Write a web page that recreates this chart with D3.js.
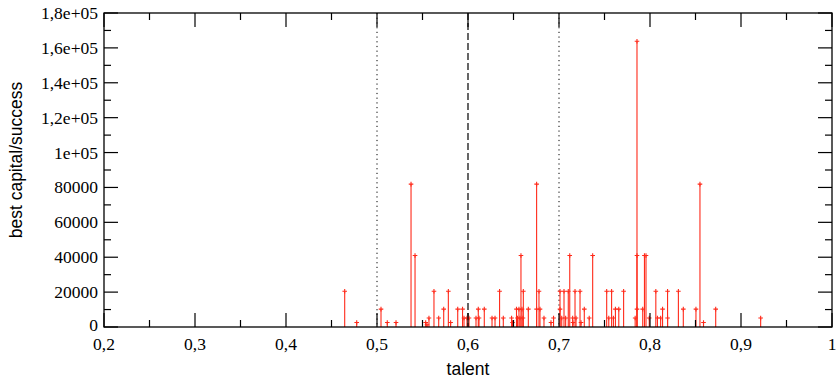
<!DOCTYPE html>
<html>
<head>
<meta charset="utf-8">
<script src="https://cdn.jsdelivr.net/npm/d3@7"></script>
<style>
html,body{margin:0;padding:0;background:#fff;}
svg{display:block;}
</style>
</head>
<body>
<svg id="chart" width="838" height="383"></svg>
<script>
// ---- data ----
const talent = [
  0.4645, 0.4777, 0.5044, 0.5113, 0.5209, 0.5374, 0.5418, 0.5535, 0.5549, 0.5571,
  0.5626, 0.5678, 0.5733, 0.5784, 0.5809, 0.5887, 0.5940, 0.5956, 0.5989, 0.6011,
  0.6088, 0.6113, 0.6121, 0.6179, 0.6264, 0.6297, 0.6347, 0.6388, 0.6479, 0.6489,
  0.6533, 0.6544, 0.6560, 0.6571, 0.6582, 0.6593, 0.6608, 0.6604, 0.6663, 0.6754,
  0.6754, 0.6780, 0.6791, 0.6835, 0.6912, 0.6940, 0.7011, 0.7011, 0.7030, 0.7055,
  0.7073, 0.7102, 0.7118, 0.7150, 0.7154, 0.7176, 0.7187, 0.7231, 0.7242, 0.7278,
  0.7332, 0.7370, 0.7524, 0.7547, 0.7578, 0.7598, 0.7620, 0.7657, 0.7710, 0.7837,
  0.7857, 0.7857, 0.7857, 0.7920, 0.7939, 0.7956, 0.7992, 0.8064, 0.8082, 0.8117,
  0.8138, 0.8193, 0.8193, 0.8312, 0.8366, 0.8505, 0.8549, 0.8588, 0.8722, 0.9216
];
const capital = [
  20480, 2560, 10240, 2560, 2560, 81920, 40960, 2560, 1280, 5120,
  20480, 5120, 10240, 20480, 2560, 10240, 10240, 5120, 5120, 5120,
  5120, 10240, 5120, 10240, 5120, 5120, 20480, 5120, 5120, 2560,
  10240, 5120, 10240, 5120, 40960, 10240, 20480, 5120, 10240, 81920,
  10240, 20480, 10240, 5120, 2560, 5120, 20480, 10240, 5120, 20480,
  5120, 20480, 40960, 5120, 2560, 20480, 5120, 20480, 2560, 10240,
  5120, 40960, 20480, 5120, 20480, 5120, 10240, 10240, 20480, 5120,
  163840, 40960, 10240, 10240, 40960, 40960, 5120, 20480, 5120, 5120,
  10240, 20480, 5120, 20480, 10240, 10240, 81920, 2560, 10240, 5120
];
const xTickValues = [0.2, 0.3, 0.4, 0.5, 0.6, 0.7, 0.8, 0.9, 1.0];
const xTickLabels = ["0,2", "0,3", "0,4", "0,5", "0,6", "0,7", "0,8", "0,9", "1"];
const yTickValues = [0, 20000, 40000, 60000, 80000, 100000, 120000, 140000, 160000, 180000];
const yTickLabels = ["0", "20000", "40000", "60000", "80000", "1e+05", "1,2e+05", "1,4e+05", "1,6e+05", "1,8e+05"];
const dottedLines = [0.5, 0.7];
const dashedLines = [0.6];
const xLabel = "talent";
const yLabel = "best capital/success";

// ---- layout ----
const L = 104, R = 832, T = 13, B = 327;
const svg = d3.select("#chart");
const x = d3.scaleLinear().domain([0.2, 1.0]).range([L, R]);
const y = d3.scaleLinear().domain([0, 180000]).range([B, T]);

const pts = talent.map((t, i) => ({t, c: capital[i]}));

// reference lines
const g0 = svg.append("g");
g0.selectAll("line.dot").data(dottedLines).join("line")
  .attr("x1", d => x(d)).attr("x2", d => x(d)).attr("y1", T).attr("y2", B)
  .attr("stroke", "#000").attr("stroke-width", 1).attr("stroke-dasharray", "1.2,3.5");
g0.selectAll("line.dash").data(dashedLines).join("line")
  .attr("x1", d => x(d)).attr("x2", d => x(d)).attr("y1", T).attr("y2", B)
  .attr("stroke", "#000").attr("stroke-width", 1.2).attr("stroke-dasharray", "7,3");

// impulses
const gd = svg.append("g");
gd.selectAll("line.stem").data(pts).join("line")
  .attr("x1", d => x(d.t)).attr("x2", d => x(d.t))
  .attr("y1", y(0)).attr("y2", d => y(d.c))
  .attr("stroke", "#ff2a1a").attr("stroke-width", 1.1);
const ps = 2.3;
gd.selectAll("path.mark").data(pts).join("path")
  .attr("d", d => {
    const px = x(d.t), py = y(d.c);
    return `M${px - ps},${py}H${px + ps}M${px},${py - ps}V${py + ps}`;
  })
  .attr("stroke", "#ff2a1a").attr("stroke-width", 1.1).attr("fill", "none");

// frame + ticks
const ga = svg.append("g");
const majorLen = 14, minorLen = 7;
const xMinor = d3.range(0.25, 1.0, 0.1);
const yMinor = d3.range(10000, 180000, 20000);

function xTicks(vals, len) {
  vals.forEach(v => {
    ga.append("line").attr("x1", x(v)).attr("x2", x(v)).attr("y1", B).attr("y2", B - len)
      .attr("stroke", "#000").attr("stroke-width", 1.2);
    ga.append("line").attr("x1", x(v)).attr("x2", x(v)).attr("y1", T).attr("y2", T + len)
      .attr("stroke", "#000").attr("stroke-width", 1.2);
  });
}
function yTicks(vals, len) {
  vals.forEach(v => {
    ga.append("line").attr("x1", L).attr("x2", L + len).attr("y1", y(v)).attr("y2", y(v))
      .attr("stroke", "#000").attr("stroke-width", 1.2);
    ga.append("line").attr("x1", R).attr("x2", R - len).attr("y1", y(v)).attr("y2", y(v))
      .attr("stroke", "#000").attr("stroke-width", 1.2);
  });
}
xTicks(xTickValues, majorLen);
xTicks(xMinor, minorLen);
yTicks(yTickValues, majorLen);
yTicks(yMinor, minorLen);

ga.append("rect").attr("x", L).attr("y", T).attr("width", R - L).attr("height", B - T)
  .attr("fill", "none").attr("stroke", "#000").attr("stroke-width", 1.3);

// tick labels
const serif = "'Liberation Serif', 'Times New Roman', Times, serif";
ga.selectAll("text.xt").data(xTickValues).join("text")
  .attr("x", d => x(d)).attr("y", 350)
  .attr("text-anchor", "middle").attr("font-family", serif).attr("font-size", 17.5)
  .attr("fill", "#000").text((d, i) => xTickLabels[i]);
ga.selectAll("text.yt").data(yTickValues).join("text")
  .attr("x", L - 6).attr("y", d => y(d) + (d === 0 ? 4 : 6))
  .attr("text-anchor", "end").attr("font-family", serif).attr("font-size", 17.5)
  .attr("fill", "#000").text((d, i) => yTickLabels[i]);

// axis titles
const sans = "'Liberation Sans', Arial, sans-serif";
svg.append("text").attr("x", (L + R) / 2).attr("y", 375)
  .attr("text-anchor", "middle").attr("font-family", sans).attr("font-size", 17.5)
  .attr("fill", "#000").text(xLabel);
svg.append("text").attr("transform", `translate(22,${(T + B) / 2 - 10}) rotate(-90)`)
  .attr("text-anchor", "middle").attr("font-family", sans).attr("font-size", 17.5)
  .attr("fill", "#000").text(yLabel);
</script>
</body>
</html>
